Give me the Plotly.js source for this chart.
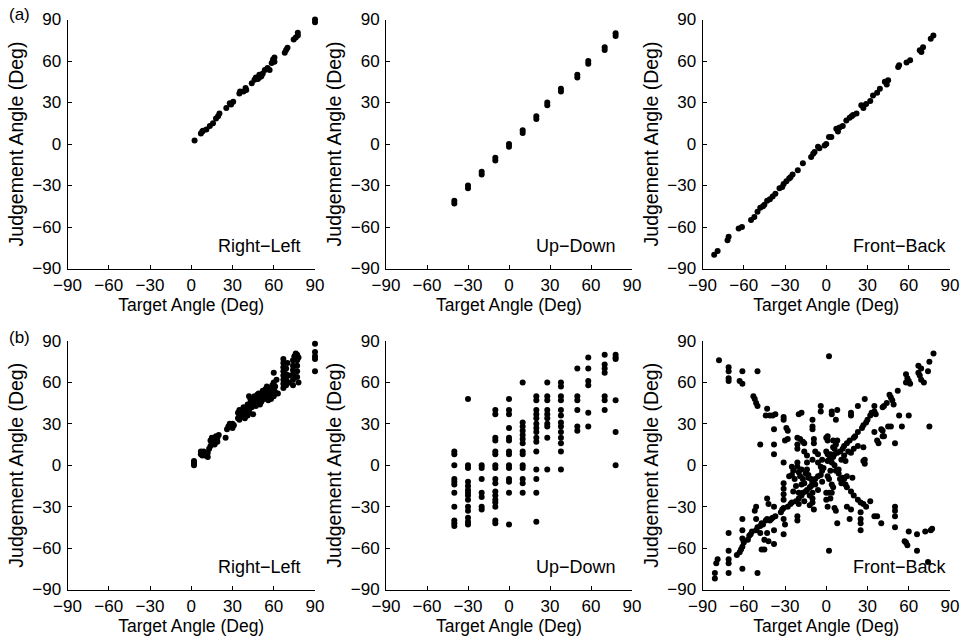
<!DOCTYPE html>
<html><head><meta charset="utf-8">
<script src="https://cdn.plot.ly/plotly-3.0.1.min.js"></script>
<style>html,body{margin:0;padding:0;background:#fff}#chart{width:962px;height:643px}</style>
</head><body><div id="chart"></div>
<script>
// ---------- data ----------
const tickValues = [-90, -60, -30, 0, 30, 60, 90];
const xTitle = 'Target Angle (Deg)';
const yTitle = 'Judgement Angle (Deg)';
const panelNames = ['Right−Left', 'Up−Down', 'Front−Back'];
const rowLabels = ['(a)', '(b)'];

// (a) Right-Left
const rlA_x = [2.4, 7, 8, 8.5, 11, 13.5, 15.8, 18, 19.5, 20.5, 25.5, 28, 29, 30.5, 35, 35.5, 38, 39.5, 40, 44, 46, 47, 48.5, 49.5, 50, 51, 52, 53.5, 55.5, 57, 58.5, 59.5, 60.5, 60.5, 68, 69, 70, 74.5, 76, 77.5, 77.5, 90, 90];
const rlA_y = [2.5, 7.5, 9, 9.5, 10.5, 13, 15, 18.5, 20, 22, 26, 29.5, 28.5, 30.5, 36.5, 38, 38, 40.5, 39, 44, 46.5, 48, 47, 50, 48.5, 49, 51, 53.5, 55, 53.5, 58.5, 61, 59.5, 62.5, 66, 68, 69.5, 75.5, 77, 78.5, 80.5, 90, 88];

// (a) Up-Down
const udA_x = [-40, -40, -30, -30, -20, -20, -10, -10, 0, 0, 10, 10, 20, 20, 28, 28, 38, 38, 50, 50, 58, 58, 70, 70, 78, 78];
const udA_y = [-41, -43, -30, -32, -20, -22, -10, -12, 0, -2, 10, 8, 20, 18, 30, 28, 40, 38, 50, 48, 60, 58, 70, 68, 80, 78];

// (a) Front-Back
const fbA_x = [-81.5, -79, -71.8, -71, -63.7, -61.3, -54.7, -52.3, -50, -48, -46, -45, -43, -41, -39, -37, -34, -32, -31, -29, -27, -26, -24.5, -20.7, -17, -11, -9.5, -8.5, -6, -5, -1.2, 0, 2, 3.7, 7.3, 8.5, 9.7, 12, 14.6, 17, 18.5, 19.5, 22, 25.5, 27, 29, 32, 34, 37, 39, 42.6, 44, 45, 52.3, 53, 58.4, 61, 68, 69.2, 70.4, 76, 77.9];
const fbA_y = [-80, -77.3, -69.6, -67, -61, -60, -55, -52.8, -49, -46, -45, -44, -41, -40, -38, -36, -32, -31, -29, -27, -25, -24, -22, -19, -14, -9.4, -7, -5.8, -2, -3, -1, 0, 5, 5, 11, 9, 12, 13, 17, 19, 20, 21, 22, 28, 26, 29, 31, 35, 37, 40, 45, 43, 46, 55.7, 57, 59, 60.5, 67.7, 66.5, 70, 76, 78.5];

// (b) Right-Left
const rlB_x = [2, 2, 2, 2, 7, 7, 8, 8, 9, 9, 10, 10, 11, 12, 12, 13, 14, 14, 15, 15, 16, 17, 17, 18, 18, 19, 19, 20, 25, 26, 27, 28, 29, 30, 30, 31, 34, 34, 35, 35, 35, 36, 36, 37, 37, 38, 38, 39, 39, 40, 40, 41, 41, 42, 42, 43, 42, 43, 44, 44, 45, 45, 46, 46, 47, 47, 48, 48, 49, 49, 50, 50, 51, 51, 52, 52, 53, 53, 54, 54, 55, 55, 45, 56, 57, 57, 58, 58, 58, 59, 59, 60, 60, 60, 61, 61, 60, 62, 63, 67, 67, 67, 67, 67, 67, 67, 67, 69, 69, 69, 69, 70, 71, 71, 74, 74, 74, 74, 74, 74, 75, 76, 77, 77, 77, 77, 77, 78, 78, 90, 90, 90, 90, 90];
const rlB_y = [0, 1, 2, 3, 8, 10, 7, 9, 8, 10, 7, 9, 8, 6, 9, 12, 14, 18, 16, 20, 19, 20, 15, 18, 21, 17, 20, 22, 20, 26, 28, 30, 29, 27, 30, 29, 34, 38, 33, 36, 40, 38, 35, 40, 36, 38, 42, 34, 39, 41, 37, 36, 44, 40, 38, 45, 50, 48, 42, 46, 48, 44, 46, 50, 43, 48, 45, 51, 47, 52, 44, 49, 46, 52, 50, 54, 48, 52, 50, 55, 53, 57, 37, 47, 50, 54, 48, 52, 56, 51, 58, 50, 55, 60, 53, 57, 67, 62, 52, 56, 59, 62, 65, 68, 71, 74, 77, 58, 62, 66, 70, 74, 60, 65, 58, 62, 66, 69, 72, 76, 79, 81, 64, 68, 72, 76, 80, 78, 60, 88, 82, 79, 77, 68];

// (b) Up-Down
const udB_x = [
  -40, -40, -40, -40, -40, -40, -40, -40, -40, -40, -40,
  -30, -30, -30, -30, -30, -30, -30, -30, -30, -30, -30, -30, -30, -30,
  -20, -20, -20, -20, -20, -20, -20,
  -10, -10, -10, -10, -10, -10, -10, -10, -10, -10, -10, -10, -10, -10, -10, -10, -10,
  0, 0, 0, 0, 0, 0, 0, 0, 0, 0, 0, 0, 0, 0,
  10, 10, 10, 10, 10, 10, 10, 10, 10, 10, 10, 10, 10, 10,
  20, 20, 20, 20, 20, 20, 20, 20, 20, 20, 20, 20, 20, 20, 20,
  28, 28, 28, 28, 28, 28, 28, 28, 28, 28,
  38, 38, 38, 38, 38, 38, 38, 38, 38, 38, 38, 38, 38,
  50, 50, 50, 50, 50, 50,
  58, 58, 58, 58, 58, 58,
  70, 70, 70, 70, 70, 70, 70,
  78, 78, 78, 78, 78, 78];
const udB_y = [
  10, 8, 0, -10, -12, -14, -20, -30, -40, -42, -44,
  48, 0, -2, -12, -15, -18, -20, -22, -25, -30, -33, -38, -41, -43,
  0, -2, -10, -20, -23, -30, -32,
  40, 37, 20, 18, 10, 8, 0, -2, -10, -13, -19, -22, -25, -27, -30, -40, -42,
  48, 40, 37, 27, 20, 18, 10, 8, 0, -2, -10, -12, -20, -43,
  60, 31, 28, 25, 22, 19, 16, 10, 8, 0, -2, -10, -13, -20,
  50, 47, 40, 37, 34, 30, 27, 24, 20, 17, 10, -3, -10, -20, -41,
  60, 50, 47, 40, 37, 34, 30, 28, 20, -3,
  60, 57, 50, 47, 40, 36, 31, 28, 24, 20, 16, 10, -3,
  70, 50, 47, 40, 28, 25,
  78, 70, 61, 58, 38, 28,
  80, 73, 70, 67, 50, 47, 40,
  80, 78, 77, 47, 24, 0];

// (b) Front-Back
const fbB_x = [
  -78, -71, -71, -71, -71, -61, -63, -61, -50, -53, -52, -51, -50, -43, -44, -41, -39, -37,
  -48, -38, -38, -38, -31, -31, -29, -28, -30, -28, -20, -18, -21, -19, -17, -16, -21, -21,
  -10, -10, -10, -9, -9, -4, -4, 1, 1, 2, 4, 4, 7, 8, 18, 18, 23, 28, 35,
  53, 60, 45, 47, 55, 75, 40, 41, 37, 38, 42, 50, 35, 41, 27, 27, 16, 5, 7, 0,
  78, 75, 74, 67, 69, 67, 68, 69, 71, 58, 59, 60, 58, 61, 52, 46, 47, 48, 44, 49, 42, 41,
  35, 33, 32, 36, 30, 29, 27, 26, 23, 21, 20, 17, 15, 13, 12, 10, 8, 6, 5, 3, 2, 1, 3, 4, 1, 0, 6,
  -2, -3, -4, -6, -8, -9, -11, -12, -15, -17, -18, -20, -22, -25, -26, -28, -31, -32, -33, -37, -39, -40, -41, -43, -44,
  -46, -48, -50, -51, -54, -55, -56, -57, -60, -61, -62, -63, -65, -71, -79, -80, -81, -81,
  -71, -71, -71, -71, -61, -61, -61, -60, -61, -51, -52, -51, -47, -48, -45, -45, -47, -50,
  -43, -42, -43, -42, -38, -38, -38, -31, -30, -31, -21, -21,
  2, 3, 6, 7, 8, 15, 18, 20, 11, 13, 15, 19, 15, 18, 17, 23, 25, 27, 25, 25, 25, 25, 28, 28,
  35, 37, 40, 50, 50, 50, 50, 60, 66, 72, 76, 57, 58, 59, 66, 74, 2, 32, 29, 77, 9, 12, 14,
  -25, -21, -25, -23, -22, -31, -31, -31, -31, -16, -14, -14, -14, -13, -11, -10, -20, -19, -17, -16,
  -10, -10, -10, -9, -6, -4, -6, -8, 1, 2, 4, 5, 0, 0, 1, 7, 9, 11, 13, 18, 20, 23, -31, -21, -20,
  -18, -15, -13, -10, -8,
  -24, -18, -14, -12, -6, -3, 3, 6, 10, -20, -16, -10, -3, 4, -27, -24, -12, 8, 14, 5];
const fbB_y = [
  76, 71, 68, 63, 61, 68, 61, 59, 68, 50, 48, 45, 43, 41, 36, 36, 36, 37,
  15, 26, 15, 8, 35, 33, 27, 25, 18, 19, 37, 38, 20, 19, 17, 16, 15, 12,
  33, 28, 26, 19, 16, 43, 39, 21, 18, 79, 39, 37, 33, 40, 38, 36, 43, 48, 43,
  36, 36, 28, 28, 28, 28, 26, 25, 18, 16, 21, 16, 24, 21, 13, 3, 10, 18, 15, 20,
  81, 75, 68, 72, 70, 67, 65, 62, 60, 66, 63, 61, 60, 59, 54, 51, 49, 47, 45, 44, 43, 42,
  39, 38, 36, 37, 33, 31, 29, 27, 24, 21, 20, 18, 16, 14, 12, 10, 9, 8, 6, 5, 4, 3, 8, 2, 8, 10, 12,
  -2, -4, -7, -8, -10, -13, -15, -16, -19, -20, -22, -24, -26, -27, -28, -30, -31, -32, -34, -37, -38, -39, -40, -39, -40,
  -43, -44, -45, -47, -48, -50, -51, -54, -56, -59, -61, -63, -65, -68, -68, -71, -78, -82,
  -49, -62, -71, -78, -39, -47, -53, -55, -75, -30, -33, -39, -42, -49, -54, -61, -61, -78,
  -24, -28, -49, -55, -30, -47, -57, -39, -43, -50, -37, -40,
  -20, -24, -31, -33, -42, -16, -19, -22, -13, -10, -8, -9, -30, -32, -39, -25, -27, -28, -34, -39, -42, -47, 4, 1,
  -37, -37, -42, -30, -33, -37, -45, -48, -50, -48, -47, -55, -56, -58, -62, -70, -62, -26, -30, -46, -3, -9, -14,
  -1, -1, -7, -10, -15, -13, -17, -21, -25, 10, 7, 2, -3, -7, -10, -13, -5, -8, -10, -13,
  -20, -24, -27, -32, 2, -1, 8, 10, -8, -10, -14, -16, -20, -25, -30, -4, -6, 4, 7, 9, 12, 14, 2, 2, -20,
  -3, -6, -9, -12, -14,
  -4, -14, -18, -22, -18, -12, -4, 0, -10, -28, -26, 4, 4, -20, -8, -19, -29, 18, 3, 13];

// ---------- layout ----------
const W = 962, H = 643;
const colPx = [[67.5, 315], [386, 632], [702.5, 950]];
const rowPx = [[19.5, 268.5], [341, 589.5]];
const FONT = 'Liberation Sans, Arial, Helvetica, sans-serif';

const seriesX = [rlA_x, udA_x, fbA_x, rlB_x, udB_x, fbB_x];
const seriesY = [rlA_y, udA_y, fbA_y, rlB_y, udB_y, fbB_y];

const traces = [];
const layout = {
  width: W, height: H,
  margin: {l: 0, r: 0, t: 0, b: 0},
  paper_bgcolor: '#fff', plot_bgcolor: '#fff',
  showlegend: false,
  font: {family: FONT, color: '#000', size: 17},
  annotations: []
};

for (let r = 0; r < 2; r++) {
  for (let c = 0; c < 3; c++) {
    const i = r * 3 + c + 1;
    const sfx = i === 1 ? '' : String(i);
    traces.push({
      type: 'scatter', mode: 'markers',
      x: seriesX[i - 1], y: seriesY[i - 1],
      xaxis: 'x' + sfx, yaxis: 'y' + sfx,
      cliponaxis: false,
      marker: {color: '#000', size: 6, line: {width: 0}},
      hoverinfo: 'skip'
    });
    const common = {
      range: [-90, 90], tickmode: 'array', tickvals: tickValues,
      ticks: 'inside', ticklen: 4, tickwidth: 1, tickcolor: '#000',
      showline: true, linecolor: '#000', linewidth: 1, mirror: false,
      showgrid: false, zeroline: false, fixedrange: true,
      tickfont: {family: FONT, size: 17, color: '#000'}
    };
    layout['xaxis' + sfx] = Object.assign({}, common, {
      domain: [colPx[c][0] / W, colPx[c][1] / W],
      anchor: 'y' + sfx,
      ticklabelstandoff: 1,
      title: {text: xTitle, font: {family: FONT, size: 17.5, color: '#000'}, standoff: 2}
    });
    layout['yaxis' + sfx] = Object.assign({}, common, {
      domain: [1 - rowPx[r][1] / H, 1 - rowPx[r][0] / H],
      anchor: 'x' + sfx,
      ticklabelstandoff: 2,
      title: {text: yTitle, font: {family: FONT, size: 19.5, color: '#000'}, standoff: 3}
    });
    layout.annotations.push({
      xref: 'x' + sfx, yref: 'y' + sfx, x: 18, y: -74,
      xanchor: 'left', yanchor: 'middle', showarrow: false,
      text: panelNames[c], font: {family: FONT, size: 18, color: '#000'}
    });
  }
  layout.annotations.push({
    xref: 'paper', yref: 'paper', x: 7 / W, y: 1 - (r === 0 ? 15 : 337) / H,
    xanchor: 'left', yanchor: 'middle', showarrow: false,
    text: rowLabels[r], font: {family: FONT, size: 17, color: '#000'}
  });
}

Plotly.newPlot('chart', traces, layout, {staticPlot: true, displayModeBar: false});
</script>
</body></html>
